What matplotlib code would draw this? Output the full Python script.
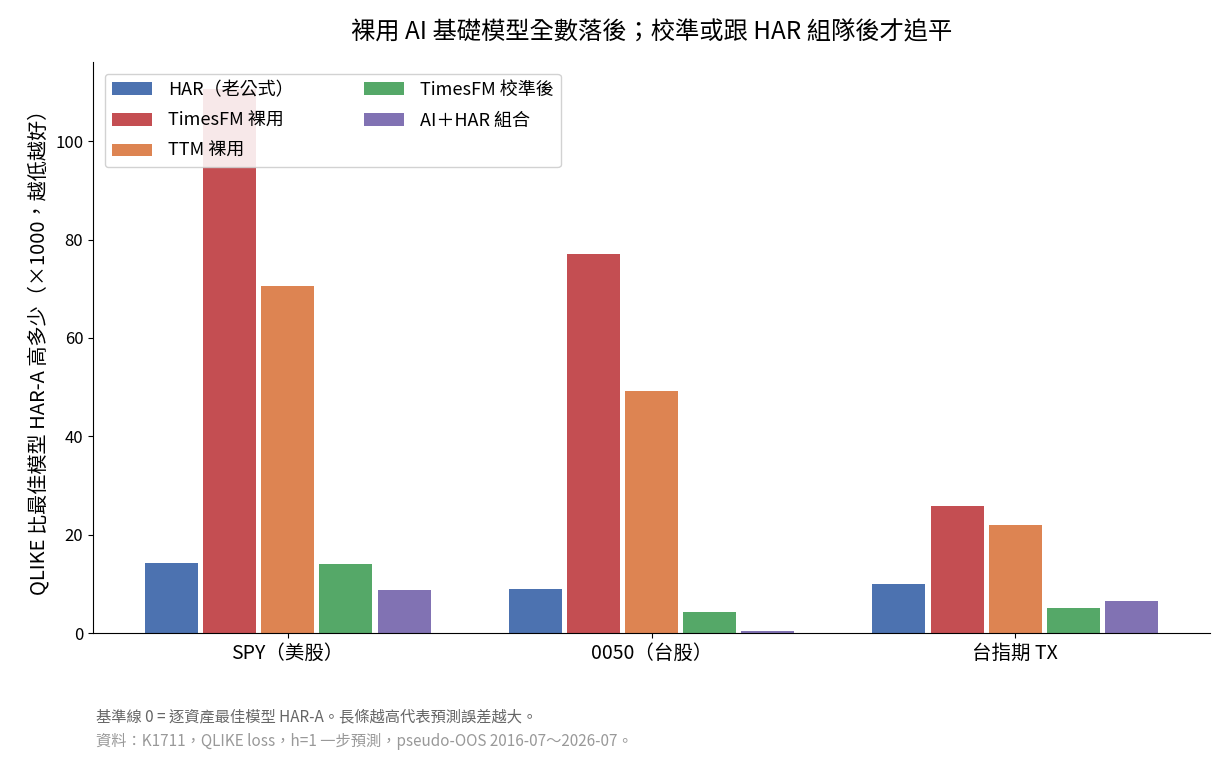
import matplotlib
matplotlib.use("Agg")
import matplotlib.pyplot as plt
import numpy as np

plt.rcParams['font.family'] = ['Noto Sans CJK TC', 'DejaVu Sans']

categories = ["SPY（美股）", "0050（台股）", "台指期 TX"]
series_names = ["HAR（老公式）", "TimesFM 裸用", "TTM 裸用", "TimesFM 校準後", "AI＋HAR 組合"]
har = [14.3, 9.0, 10.0]
timesfm_raw = [110.6, 77.0, 25.9]
ttm_raw = [70.5, 49.3, 22.0]
timesfm_cal = [14.0, 4.3, 5.1]
ai_har = [8.8, 0.4, 6.5]
colors = ["#4C72B0", "#C44E52", "#DD8452", "#55A868", "#8172B3"]

title = "裸用 AI 基礎模型全數落後；校準或跟 HAR 組隊後才追平"
ylabel = "QLIKE 比最佳模型 HAR-A 高多少（×1000，越低越好）"
note1 = "基準線 0 = 逐資產最佳模型 HAR-A。長條越高代表預測誤差越大。"
note2 = "資料：K1711，QLIKE loss，h=1 一步預測，pseudo-OOS 2016-07～2026-07。"

series = [har, timesfm_raw, ttm_raw, timesfm_cal, ai_har]

fig = plt.figure(figsize=(12.25, 7.65), dpi=100)
ax = fig.add_axes([93/1225, 1 - 633/765, (1210-93)/1225, (633-62)/765])

x = np.arange(len(categories))
pitch = 0.16
width = 0.146
for i, (vals, name, c) in enumerate(zip(series, series_names, colors)):
    ax.bar(x + (i - 2) * pitch, vals, width, color=c, label=name, zorder=2)

ax.set_xlim(-0.535, 2.535)
ax.set_ylim(0, max(timesfm_raw) * 1.05)
ax.set_xticks(x)
ax.set_xticklabels(categories, fontsize=14)
ax.tick_params(axis='y', labelsize=12)
ax.set_yticks([0, 20, 40, 60, 80, 100])
ax.spines['top'].set_visible(False)
ax.spines['right'].set_visible(False)
ax.set_ylabel(ylabel, fontsize=14.5)
ax.set_title(title, fontsize=17.5, pad=16)

leg = ax.legend(loc='upper left', ncol=2, fontsize=13, framealpha=0.88,
                borderaxespad=0.65, columnspacing=3.9, handlelength=2.2,
                handletextpad=0.9, labelspacing=0.7)

fig.text(96/1225, 1 - 717/765, note1, fontsize=11, color="#666666", va='center')
fig.text(96/1225, 1 - 741/765, note2, fontsize=11, color="#999999", va='center')

fig.savefig("out.png", dpi=100)
